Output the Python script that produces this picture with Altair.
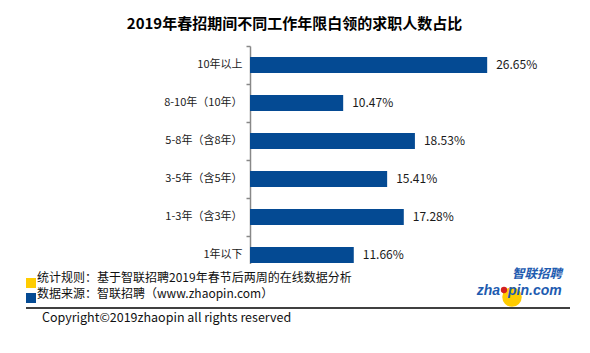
import altair as alt
import pandas as pd

categories = ["10年以上", "8-10年（10年）", "5-8年（含8年）", "3-5年（含5年）", "1-3年（含3年）", "1年以下"]
values = [26.65, 10.47, 18.53, 15.41, 17.28, 11.66]
labels = [f"{v:.2f}%" for v in values]

title_text = "2019年春招期间不同工作年限白领的求职人数占比"
note1 = "统计规则：基于智联招聘2019年春节后两周的在线数据分析"
note2 = "数据来源：智联招聘（www.zhaopin.com）"
copyright_text = "Copyright©2019zhaopin all rights reserved"

FONT = "Noto Sans CJK SC"
BAR = "#044A93"
LOGO = "#1E5BB0"

df = pd.DataFrame({"cat": categories, "val": values, "label": labels})
one = pd.DataFrame({"k": [0]})

base = alt.Chart(df)
bars = base.mark_bar(size=16, color=BAR).encode(
    y=alt.Y("cat:N", sort=categories,
            scale=alt.Scale(paddingInner=0, paddingOuter=0),
            axis=alt.Axis(title=None, domainColor="#888888", tickColor="#888888",
                          tickSize=4, bandPosition=0, labelFontSize=11, labelFont=FONT,
                          labelColor="#222222", labelPadding=4, grid=False, domainWidth=1.5,
                          tickWidth=1.5)),
    x=alt.X("val:Q", scale=alt.Scale(domain=[0, 30]), axis=None),
)
texts = base.mark_text(align="left", baseline="middle", dx=9, fontSize=12, font=FONT,
                       color="#1a1a1a").encode(
    y=alt.Y("cat:N", sort=categories),
    x=alt.X("val:Q"),
    text="label:N",
)

def txt(s, x, y, size=12, weight="normal", align="left", color="#111111", style="normal", font=FONT):
    return alt.Chart(one).mark_text(text=s, align=align, baseline="middle", fontSize=size,
                                    fontWeight=weight, font=font, color=color,
                                    fontStyle=style).encode(x=alt.value(x), y=alt.value(y))

def rect(x1, x2, y1, y2, color):
    return alt.Chart(one).mark_rect(color=color).encode(
        x=alt.value(x1), x2=alt.value(x2), y=alt.value(y1), y2=alt.value(y2))

title = txt(title_text, 44.5, -22, size=15, weight="bold", align="center", color="#000000")
cover = rect(-6, 6, 218, 230, "#ffffff")
sq1 = rect(-224, -214, 232, 242, "#FFCC00")
sq2 = rect(-224, -214, 247, 257, BAR)
line1 = txt(note1, -213, 231.5)
line2 = txt(note2, -213, 248)
hr = alt.Chart(one).mark_rule(color="#000000", strokeWidth=1.5).encode(
    x=alt.value(-224), x2=alt.value(320), y=alt.value(262))
copy = txt(copyright_text, -208, 272, size=12.5)

logo_circle = alt.Chart(one).mark_circle(color="#FFCC00", opacity=1, size=380).encode(
    x=alt.value(262), y=alt.value(251))
logo_dot = alt.Chart(one).mark_circle(color="#D42020", opacity=1, size=40).encode(
    x=alt.value(254), y=alt.value(244))
logo_cn = txt("智联招聘", 287, 228, size=12.5, weight="bold", align="center", color=LOGO, style="italic")
logo_a = txt("zha", 250, 245, size=14, weight="bold", align="right", color=LOGO,
             style="italic", font="Liberation Sans")
logo_b = txt("pin.com", 258, 245, size=14, weight="bold", align="left", color=LOGO,
             style="italic", font="Liberation Sans")

chart = alt.layer(
    bars, texts, title, cover, sq1, sq2, line1, line2, hr, copy,
    logo_circle, logo_dot, logo_cn, logo_a, logo_b
).properties(
    width=267, height=228,
    padding={"left": 250, "top": 46, "right": 73, "bottom": 79},
    autosize=alt.AutoSizeParams(type="none"),
    background="#ffffff",
).configure_view(stroke=None)

chart.save("out.html", embed_options={"renderer": "svg", "actions": False})
